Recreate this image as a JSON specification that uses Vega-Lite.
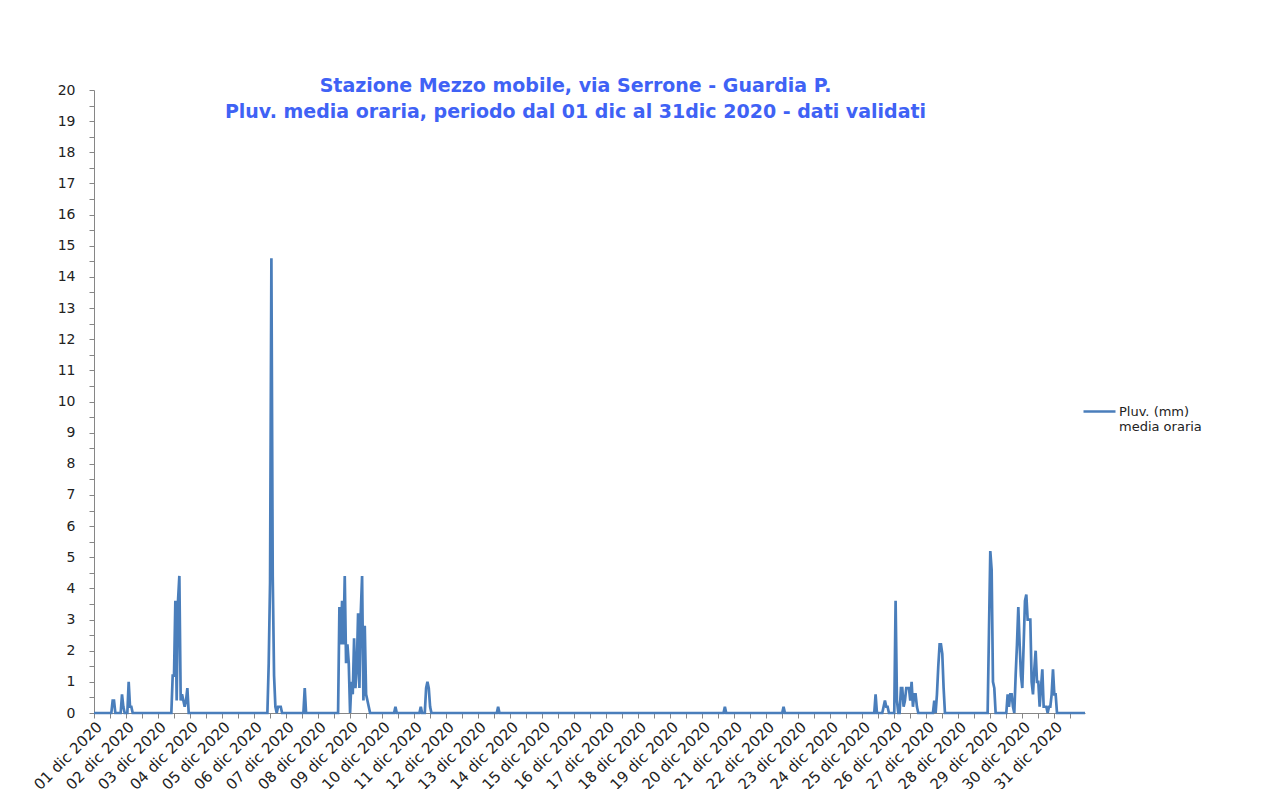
{
  "$schema": "https://vega.github.io/schema/vega-lite/v6.json",
  "width": 991,
  "height": 623,
  "autosize": {"type": "none"},
  "padding": {"left": 94, "top": 90, "right": 200, "bottom": 76},
  "background": "white",
  "config": {"view": {"stroke": null}, "font": "DejaVu Sans"},
  "title": {
    "text": ["Stazione Mezzo mobile, via Serrone - Guardia P.", "Pluv. media oraria, periodo dal 01 dic al 31dic 2020 - dati validati"],
    "anchor": "middle",
    "font": "DejaVu Sans",
    "fontSize": 19,
    "fontWeight": "bold",
    "color": "#3F62F5",
    "lineHeight": 26,
    "offset": -39,
    "dx": -14
  },
  "data": {
    "values": [
      {"t": "2020-12-01T00:00", "v": 0},
      {"t": "2020-12-01T13:00", "v": 0},
      {"t": "2020-12-01T14:00", "v": 0.4},
      {"t": "2020-12-01T15:00", "v": 0.4},
      {"t": "2020-12-01T16:00", "v": 0},
      {"t": "2020-12-01T20:00", "v": 0},
      {"t": "2020-12-01T21:00", "v": 0.6},
      {"t": "2020-12-01T22:00", "v": 0.2},
      {"t": "2020-12-01T23:00", "v": 0},
      {"t": "2020-12-02T01:00", "v": 0},
      {"t": "2020-12-02T02:00", "v": 1.0},
      {"t": "2020-12-02T03:00", "v": 0.2},
      {"t": "2020-12-02T04:00", "v": 0.2},
      {"t": "2020-12-02T05:00", "v": 0},
      {"t": "2020-12-03T10:00", "v": 0},
      {"t": "2020-12-03T11:00", "v": 1.2},
      {"t": "2020-12-03T12:00", "v": 1.2},
      {"t": "2020-12-03T13:00", "v": 3.6},
      {"t": "2020-12-03T14:00", "v": 0.4},
      {"t": "2020-12-03T15:00", "v": 3.6},
      {"t": "2020-12-03T16:00", "v": 4.4},
      {"t": "2020-12-03T17:00", "v": 0.4},
      {"t": "2020-12-03T18:00", "v": 0.6},
      {"t": "2020-12-03T19:00", "v": 0.4},
      {"t": "2020-12-03T20:00", "v": 0.2},
      {"t": "2020-12-03T21:00", "v": 0.4},
      {"t": "2020-12-03T22:00", "v": 0.8},
      {"t": "2020-12-03T23:00", "v": 0},
      {"t": "2020-12-06T10:00", "v": 0},
      {"t": "2020-12-06T11:00", "v": 1.6},
      {"t": "2020-12-06T12:00", "v": 4.2},
      {"t": "2020-12-06T13:00", "v": 14.6},
      {"t": "2020-12-06T14:00", "v": 4.4},
      {"t": "2020-12-06T15:00", "v": 1.2},
      {"t": "2020-12-06T16:00", "v": 0.2},
      {"t": "2020-12-06T17:00", "v": 0},
      {"t": "2020-12-06T18:00", "v": 0.2},
      {"t": "2020-12-06T19:00", "v": 0.2},
      {"t": "2020-12-06T20:00", "v": 0.2},
      {"t": "2020-12-06T21:00", "v": 0},
      {"t": "2020-12-07T13:00", "v": 0},
      {"t": "2020-12-07T14:00", "v": 0.8},
      {"t": "2020-12-07T15:00", "v": 0},
      {"t": "2020-12-08T15:00", "v": 0},
      {"t": "2020-12-08T16:00", "v": 3.4},
      {"t": "2020-12-08T17:00", "v": 2.2},
      {"t": "2020-12-08T18:00", "v": 3.6},
      {"t": "2020-12-08T19:00", "v": 2.2},
      {"t": "2020-12-08T20:00", "v": 4.4},
      {"t": "2020-12-08T21:00", "v": 1.6},
      {"t": "2020-12-08T22:00", "v": 2.2},
      {"t": "2020-12-08T23:00", "v": 1.6},
      {"t": "2020-12-09T00:00", "v": 0},
      {"t": "2020-12-09T01:00", "v": 1.0},
      {"t": "2020-12-09T02:00", "v": 0.6},
      {"t": "2020-12-09T03:00", "v": 2.4},
      {"t": "2020-12-09T04:00", "v": 0.8},
      {"t": "2020-12-09T05:00", "v": 1.4},
      {"t": "2020-12-09T06:00", "v": 3.2},
      {"t": "2020-12-09T07:00", "v": 0.8},
      {"t": "2020-12-09T08:00", "v": 3.2},
      {"t": "2020-12-09T09:00", "v": 4.4},
      {"t": "2020-12-09T10:00", "v": 0.4},
      {"t": "2020-12-09T11:00", "v": 2.8},
      {"t": "2020-12-09T12:00", "v": 0.6},
      {"t": "2020-12-09T13:00", "v": 0.4},
      {"t": "2020-12-09T14:00", "v": 0.2},
      {"t": "2020-12-09T15:00", "v": 0},
      {"t": "2020-12-10T09:00", "v": 0},
      {"t": "2020-12-10T10:00", "v": 0.2},
      {"t": "2020-12-10T11:00", "v": 0},
      {"t": "2020-12-11T04:00", "v": 0},
      {"t": "2020-12-11T05:00", "v": 0.2},
      {"t": "2020-12-11T06:00", "v": 0},
      {"t": "2020-12-11T08:00", "v": 0},
      {"t": "2020-12-11T09:00", "v": 0.8},
      {"t": "2020-12-11T10:00", "v": 1.0},
      {"t": "2020-12-11T11:00", "v": 0.8},
      {"t": "2020-12-11T12:00", "v": 0.2},
      {"t": "2020-12-11T13:00", "v": 0},
      {"t": "2020-12-13T14:00", "v": 0},
      {"t": "2020-12-13T15:00", "v": 0.2},
      {"t": "2020-12-13T16:00", "v": 0},
      {"t": "2020-12-20T16:00", "v": 0},
      {"t": "2020-12-20T17:00", "v": 0.2},
      {"t": "2020-12-20T18:00", "v": 0},
      {"t": "2020-12-22T12:00", "v": 0},
      {"t": "2020-12-22T13:00", "v": 0.2},
      {"t": "2020-12-22T14:00", "v": 0},
      {"t": "2020-12-25T09:00", "v": 0},
      {"t": "2020-12-25T10:00", "v": 0.6},
      {"t": "2020-12-25T11:00", "v": 0},
      {"t": "2020-12-25T15:00", "v": 0},
      {"t": "2020-12-25T16:00", "v": 0.2},
      {"t": "2020-12-25T17:00", "v": 0.4},
      {"t": "2020-12-25T18:00", "v": 0.2},
      {"t": "2020-12-25T19:00", "v": 0.2},
      {"t": "2020-12-25T20:00", "v": 0},
      {"t": "2020-12-26T00:00", "v": 0},
      {"t": "2020-12-26T01:00", "v": 3.6},
      {"t": "2020-12-26T02:00", "v": 0.4},
      {"t": "2020-12-26T03:00", "v": 0},
      {"t": "2020-12-26T04:00", "v": 0},
      {"t": "2020-12-26T05:00", "v": 0.8},
      {"t": "2020-12-26T06:00", "v": 0.8},
      {"t": "2020-12-26T07:00", "v": 0.2},
      {"t": "2020-12-26T08:00", "v": 0.4},
      {"t": "2020-12-26T09:00", "v": 0.8},
      {"t": "2020-12-26T10:00", "v": 0.8},
      {"t": "2020-12-26T11:00", "v": 0.8},
      {"t": "2020-12-26T12:00", "v": 0.4},
      {"t": "2020-12-26T13:00", "v": 1.0},
      {"t": "2020-12-26T14:00", "v": 0.2},
      {"t": "2020-12-26T15:00", "v": 0.6},
      {"t": "2020-12-26T16:00", "v": 0.6},
      {"t": "2020-12-26T17:00", "v": 0.2},
      {"t": "2020-12-26T18:00", "v": 0},
      {"t": "2020-12-27T05:00", "v": 0},
      {"t": "2020-12-27T06:00", "v": 0.4},
      {"t": "2020-12-27T07:00", "v": 0},
      {"t": "2020-12-27T08:00", "v": 0.6},
      {"t": "2020-12-27T09:00", "v": 1.5},
      {"t": "2020-12-27T10:00", "v": 2.2},
      {"t": "2020-12-27T11:00", "v": 2.2},
      {"t": "2020-12-27T12:00", "v": 1.9},
      {"t": "2020-12-27T13:00", "v": 0.8},
      {"t": "2020-12-27T14:00", "v": 0},
      {"t": "2020-12-28T22:00", "v": 0},
      {"t": "2020-12-28T23:00", "v": 2.6},
      {"t": "2020-12-29T00:00", "v": 5.2},
      {"t": "2020-12-29T01:00", "v": 4.6},
      {"t": "2020-12-29T02:00", "v": 1.0},
      {"t": "2020-12-29T03:00", "v": 0.8},
      {"t": "2020-12-29T04:00", "v": 0},
      {"t": "2020-12-29T12:00", "v": 0},
      {"t": "2020-12-29T13:00", "v": 0.6},
      {"t": "2020-12-29T14:00", "v": 0.2},
      {"t": "2020-12-29T15:00", "v": 0.6},
      {"t": "2020-12-29T16:00", "v": 0.6},
      {"t": "2020-12-29T17:00", "v": 0.2},
      {"t": "2020-12-29T18:00", "v": 0},
      {"t": "2020-12-29T19:00", "v": 1.2},
      {"t": "2020-12-29T20:00", "v": 2.2},
      {"t": "2020-12-29T21:00", "v": 3.4},
      {"t": "2020-12-29T22:00", "v": 2.2},
      {"t": "2020-12-29T23:00", "v": 1.2},
      {"t": "2020-12-30T00:00", "v": 0.8},
      {"t": "2020-12-30T01:00", "v": 2.2},
      {"t": "2020-12-30T02:00", "v": 3.6},
      {"t": "2020-12-30T03:00", "v": 3.8},
      {"t": "2020-12-30T04:00", "v": 3.0},
      {"t": "2020-12-30T05:00", "v": 3.0},
      {"t": "2020-12-30T06:00", "v": 3.0},
      {"t": "2020-12-30T07:00", "v": 1.0},
      {"t": "2020-12-30T08:00", "v": 0.6},
      {"t": "2020-12-30T09:00", "v": 1.4},
      {"t": "2020-12-30T10:00", "v": 2.0},
      {"t": "2020-12-30T11:00", "v": 1.0},
      {"t": "2020-12-30T12:00", "v": 1.0},
      {"t": "2020-12-30T13:00", "v": 0.2},
      {"t": "2020-12-30T14:00", "v": 0.8},
      {"t": "2020-12-30T15:00", "v": 1.4},
      {"t": "2020-12-30T16:00", "v": 0.2},
      {"t": "2020-12-30T17:00", "v": 0.2},
      {"t": "2020-12-30T18:00", "v": 0.2},
      {"t": "2020-12-30T19:00", "v": 0},
      {"t": "2020-12-30T20:00", "v": 0.2},
      {"t": "2020-12-30T21:00", "v": 0.2},
      {"t": "2020-12-30T22:00", "v": 0.6},
      {"t": "2020-12-30T23:00", "v": 1.4},
      {"t": "2020-12-31T00:00", "v": 0.6},
      {"t": "2020-12-31T01:00", "v": 0.6},
      {"t": "2020-12-31T02:00", "v": 0},
      {"t": "2020-12-31T23:00", "v": 0}
    ]
  },
  "mark": {"type": "line", "strokeWidth": 2.7},
  "encoding": {
    "x": {
      "field": "t",
      "type": "temporal",
      "scale": {"nice": false},
      "axis": {
        "title": null,
        "grid": false,
        "tickCount": 62,
        "labelExpr": "month(datum.value) == 11 && hours(datum.value) == 0 ? timeFormat(datum.value, '%d') + ' dic 2020' : ''",
        "labelAngle": -45,
        "labelOverlap": false,
        "labelFont": "DejaVu Sans",
        "labelFontSize": 15,
        "labelColor": "#222222",
        "labelPadding": 1,
        "domainColor": "#868686",
        "tickColor": "#868686",
        "tickSize": 5
      }
    },
    "y": {
      "field": "v",
      "type": "quantitative",
      "scale": {"domain": [0, 20], "nice": false},
      "axis": {
        "title": null,
        "grid": false,
        "values": [0, 0.5, 1, 1.5, 2, 2.5, 3, 3.5, 4, 4.5, 5, 5.5, 6, 6.5, 7, 7.5, 8, 8.5, 9, 9.5, 10, 10.5, 11, 11.5, 12, 12.5, 13, 13.5, 14, 14.5, 15, 15.5, 16, 16.5, 17, 17.5, 18, 18.5, 19, 19.5, 20],
        "labelExpr": "datum.value % 1 == 0 ? format(datum.value, 'd') : ''",
        "labelFont": "DejaVu Sans",
        "labelFontSize": 14,
        "labelColor": "#222222",
        "labelPadding": 14,
        "domainColor": "#868686",
        "tickColor": "#868686",
        "tickSize": 5
      }
    },
    "color": {
      "datum": "Pluv. (mm)",
      "scale": {"range": ["#4A7EBB"]},
      "legend": {
        "orient": "none",
        "legendX": 988,
        "legendY": 304,
        "title": null,
        "symbolType": "stroke",
        "symbolSize": 1024,
        "symbolStrokeWidth": 2.5,
        "labelExpr": "['Pluv. (mm)', 'media oraria']",
        "labelFont": "DejaVu Sans",
        "labelFontSize": 13,
        "labelColor": "#222222",
        "labelOffset": 2
      }
    }
  }
}
